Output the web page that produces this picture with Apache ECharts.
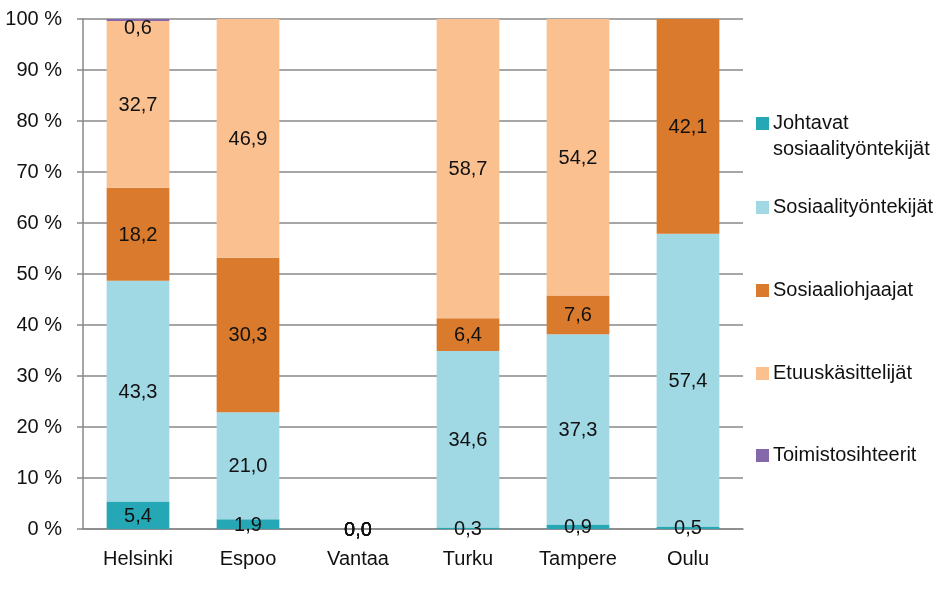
<!DOCTYPE html>
<html><head><meta charset="utf-8">
<script src="https://cdn.jsdelivr.net/npm/echarts@6/dist/echarts.min.js"></script>
<style>html,body{margin:0;padding:0;background:#fff}#c{width:945px;height:593px}</style>
</head><body><div id="c"></div>
<script>
var categories = ['Helsinki','Espoo','Vantaa','Turku','Tampere','Oulu'];
var seriesNames = ['Johtavat sosiaalityöntekijät','Sosiaalityöntekijät','Sosiaaliohjaajat','Etuuskäsittelijät','Toimistosihteerit'];
var johtavat = [5.4, 1.9, 0, 0.3, 0.9, 0.5];
var sosiaalityontekijat = [43.3, 21.0, 0, 34.6, 37.3, 57.4];
var sosiaaliohjaajat = [18.2, 30.3, 0, 6.4, 7.6, 42.1];
var etuuskasittelijat = [32.7, 46.9, 0, 58.7, 54.2, null];
var toimistosihteerit = [0.6, null, null, null, null, null];
var yTicks = [0,10,20,30,40,50,60,70,80,90,100];

var colors = ['#25A7B6','#A0D8E4','#D97A2C','#FAC08F','#8468AB'];
var allData = [johtavat, sosiaalityontekijat, sosiaaliohjaajat, etuuskasittelijat, toimistosihteerit];
var font = '"Liberation Sans", Arial, sans-serif';
var FS = 20;

var series = seriesNames.map(function(n,i){
  return {
    name: n, type: 'bar', stack: 'a', barCategoryGap: '43%',
    itemStyle: {color: colors[i]},
    data: allData[i],
    label: {
      show: true, position: 'inside', color: '#111', fontSize: FS, fontFamily: font,
      offset: i === 4 ? [0, 8] : [0, 1],
      formatter: function(p){ return p.value == null ? '' : Number(p.value).toFixed(1).replace('.', ','); }
    }
  };
});

var iconCenters = [123, 207, 290, 373, 455];
var legends = seriesNames.map(function(n,i){
  return {
    data: [n], orient: 'vertical', left: 756, top: iconCenters[i] - 12,
    itemWidth: 13, itemHeight: 13, itemGap: 0, padding: 0,
    icon: 'rect',
    formatter: function(name){ return i === 0 ? 'Johtavat' : name; },
    textStyle: {fontSize: FS, fontFamily: font, color: '#111', lineHeight: 25, padding: [0,0,0,-1]},
    selectedMode: false
  };
});

var chart = echarts.init(document.getElementById('c'), null, {renderer:'canvas'});
chart.setOption({
  animation: false,
  grid: {left: 83, right: 202, top: 19, bottom: 64},
  legend: legends,
  graphic: [{type: 'text', left: 773, top: 139,
    style: {text: 'sosiaalityöntekijät', font: FS + 'px ' + font, fill: '#111'}}],
  xAxis: {
    type: 'category', data: categories,
    axisLine: {lineStyle: {color: '#888', width: 1.5}},
    axisTick: {show: false},
    axisLabel: {color: '#111', fontSize: FS, fontFamily: font, margin: 20}
  },
  yAxis: {
    type: 'value', min: 0, max: 100, interval: 10,
    axisLine: {show: true, lineStyle: {color: '#888', width: 1.5}},
    axisTick: {show: true, length: 6, lineStyle: {color: '#888', width: 1.5}},
    splitLine: {lineStyle: {color: '#888', width: 1.5}},
    axisLabel: {color: '#111', fontSize: FS, fontFamily: font, margin: 21,
      formatter: function(v){ return yTicks.indexOf(v) >= 0 ? v + ' %' : ''; }}
  },
  series: series
});
</script></body></html>
